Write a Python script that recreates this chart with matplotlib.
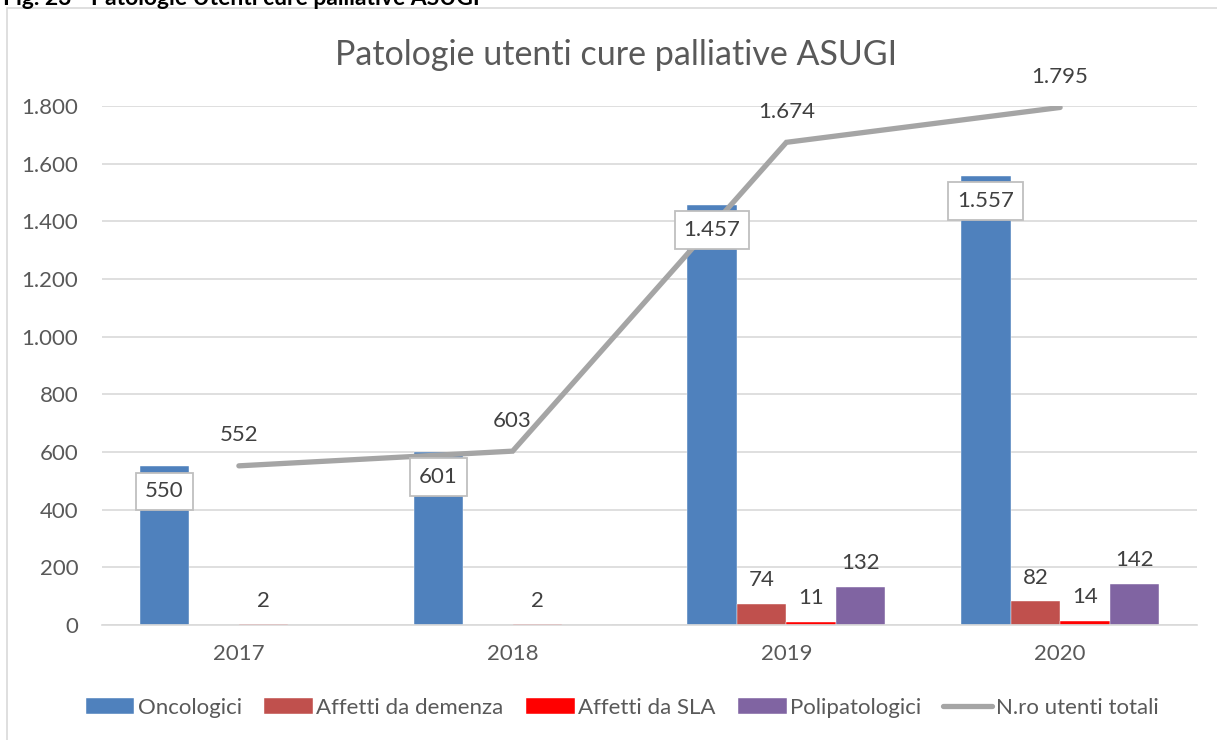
import matplotlib
matplotlib.use("Agg")
import matplotlib.pyplot as plt
import numpy as np
from matplotlib.patches import Rectangle

plt.rcParams['font.family'] = ['Lato', 'DejaVu Sans']

years = ["2017", "2018", "2019", "2020"]
oncologici = [550, 601, 1457, 1557]
demenza = [0, 0, 74, 82]
sla = [2, 2, 11, 14]
polipatologici = [0, 0, 132, 142]
totali = [552, 603, 1674, 1795]
yticks = [0, 200, 400, 600, 800, 1000, 1200, 1400, 1600, 1800]

series = [
    ("Oncologici", oncologici, "#4F81BD"),
    ("Affetti da demenza", demenza, "#C0504D"),
    ("Affetti da SLA", sla, "#FF0000"),
    ("Polipatologici", polipatologici, "#8064A2"),
]

W, H = 1217, 740
fig = plt.figure(figsize=(W / 100, H / 100), dpi=100)

# chart border
fig.patches.append(Rectangle((7 / W, -0.1), 1.2, 1 - 8 / H + 0.1, transform=fig.transFigure,
                             fill=False, edgecolor="#D9D9D9", linewidth=1.2))

ax = fig.add_axes([102 / W, 1 - 625 / H, (1197 - 102) / W, (625 - 106) / H])

x = np.arange(len(years))
bw = 0.181
txt = "#404040"
lab = "#595959"


def fmt(v):
    return f"{v:,}".replace(",", ".")


handles = []
for i, (name, vals, col) in enumerate(series):
    off = (i - 1.5) * bw
    bars = ax.bar(x + off, vals, width=bw, color=col, edgecolor="white", linewidth=0.3,
                  zorder=2, label=name)
    handles.append(bars)
    for xi, v in zip(x + off, vals):
        if v == 0:
            continue
        if i == 0:
            ax.annotate(fmt(v), (xi, v), xytext=(0, -18),
                        textcoords="offset points", ha="center", va="center",
                        fontsize=16, color=txt, zorder=5,
                        bbox=dict(boxstyle="square,pad=0.4", fc="white", ec="#BFBFBF", lw=1.3))
        else:
            ax.annotate(fmt(v), (xi, v), xytext=(0, 17),
                        textcoords="offset points", ha="center", va="center",
                        fontsize=16, color=txt, zorder=5)

line, = ax.plot(x, totali, color="#A5A5A5", linewidth=3.8, solid_capstyle="round",
                solid_joinstyle="miter", zorder=3, label="N.ro utenti totali")
handles.append(line)
for xi, v in zip(x, totali):
    ax.annotate(fmt(v), (xi, v), xytext=(0, 22),
                textcoords="offset points", ha="center", va="center",
                fontsize=16, color=txt, zorder=5, annotation_clip=False)

ax.set_xlim(-0.5, 3.5)
ax.set_ylim(0, 1800)
ax.set_yticks(yticks)
ax.set_yticklabels([fmt(t) for t in yticks])
ax.set_xticks(x)
ax.set_xticklabels(years)
ax.tick_params(axis="both", length=0, labelsize=16, colors=lab)
ax.tick_params(axis="y", pad=17)
ax.tick_params(axis="x", pad=14)
ax.grid(axis="y", color="#D9D9D9", linewidth=1.2, zorder=0)
ax.set_axisbelow(True)
for s in ["top", "right", "left"]:
    ax.spines[s].set_visible(False)
ax.spines["bottom"].set_color("#D9D9D9")
ax.spines["bottom"].set_linewidth(1.2)

fig.text(616 / W, 1 - 55 / H, "Patologie utenti cure palliative ASUGI", ha="center", va="center",
         fontsize=24.5, color=lab)

fig.text(3 / W, 1 - 5 / H, "Fig. 23 - Patologie Utenti cure palliative ASUGI", ha="left",
         va="baseline", fontsize=16.5, fontweight="bold", color="black")

labels = [h.get_label() for h in handles]
fig.legend(handles, labels, loc="center", bbox_to_anchor=(622 / W, 1 - 708 / H), ncol=5,
           frameon=False, fontsize=16, handlelength=2.2, handleheight=0.7,
           handletextpad=0.15, columnspacing=1.0, labelcolor=lab)

fig.savefig("out.png", dpi=100)
